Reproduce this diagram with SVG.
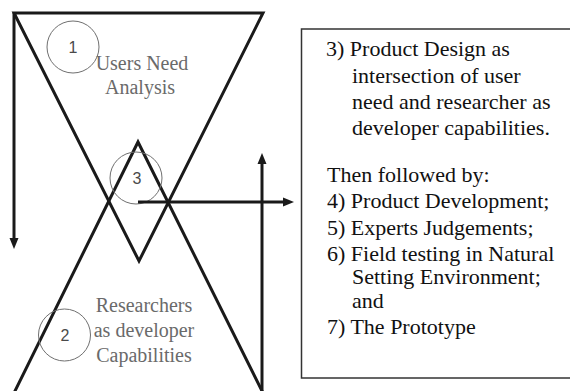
<svg xmlns="http://www.w3.org/2000/svg" width="570" height="391" viewBox="0 0 570 391">
  <style>
    .tri { fill: none; stroke: #1a1a1a; stroke-width: 3; stroke-linejoin: miter; }
    .conn { fill: none; stroke: #1a1a1a; stroke-width: 3; }
    .num-c { fill: none; stroke: #6f6f6f; stroke-width: 1; }
    .num { font-family: 'Liberation Sans', sans-serif; font-size: 16px; fill: #4a4a4a; text-anchor: middle; }
    .lbl { font-family: 'Liberation Serif', 'DejaVu Serif', serif; font-size: 20px; fill: #6a6a6a; text-anchor: middle; }
    .box { fill: #ffffff; stroke: #333333; stroke-width: 1.5; }
    .bt { font-family: 'Liberation Serif', 'DejaVu Serif', serif; font-size: 22px; fill: #111111; }
  </style>
  <defs>
    <marker id="ah" markerUnits="userSpaceOnUse" markerWidth="11" markerHeight="10" refX="0" refY="5" orient="auto">
      <path d="M0,0.5 L11,5 L0,9.5 Z" fill="#1a1a1a"/>
    </marker>
  </defs>
  <rect width="570" height="391" fill="#ffffff"/>

  <g id="node-box">
    <rect class="box" x="301.5" y="29" width="290" height="349"/>
    <text class="bt" x="326" y="56">3) Product Design as</text>
    <text class="bt" x="352" y="82.5">intersection of user</text>
    <text class="bt" x="352" y="109">need and researcher as</text>
    <text class="bt" x="352" y="135">developer capabilities.</text>
    <text class="bt" x="327" y="182">Then followed by:</text>
    <text class="bt" x="327" y="208">4) Product Development;</text>
    <text class="bt" x="327" y="234.5">5) Experts Judgements;</text>
    <text class="bt" x="327" y="261">6) Field testing in Natural</text>
    <text class="bt" x="352" y="284">Setting Environment;</text>
    <text class="bt" x="352" y="308">and</text>
    <text class="bt" x="327" y="334">7) The Prototype</text>
  </g>

  <g id="node-users">
    <path class="tri" d="M14,13 L263,13 L139,261 Z"/>
    <circle class="num-c" cx="73" cy="47" r="26"/>
    <text class="num" x="73" y="53">1</text>
    <text class="lbl" x="142" y="70">Users Need</text>
    <text class="lbl" x="140" y="94">Analysis</text>
  </g>

  <g id="node-researchers">
    <polyline class="tri" points="14,393 138,142 263,393"/>
    <circle class="num-c" cx="64.5" cy="335" r="26"/>
    <text class="num" x="65" y="341">2</text>
    <text class="lbl" x="144" y="312">Researchers</text>
    <text class="lbl" x="144" y="337">as developer</text>
    <text class="lbl" x="144" y="362">Capabilities</text>
  </g>

  <g id="node-intersection">
    <circle class="num-c" cx="136" cy="178" r="26"/>
    <text class="num" x="137" y="184">3</text>
  </g>

  <g id="connectors">
    <line class="conn" x1="14" y1="13" x2="14" y2="238" marker-end="url(#ah)"/>
    <line class="conn" x1="138" y1="202" x2="283" y2="202" marker-end="url(#ah)"/>
    <line class="conn" x1="262" y1="393" x2="262" y2="164" marker-end="url(#ah)"/>
  </g>
</svg>
